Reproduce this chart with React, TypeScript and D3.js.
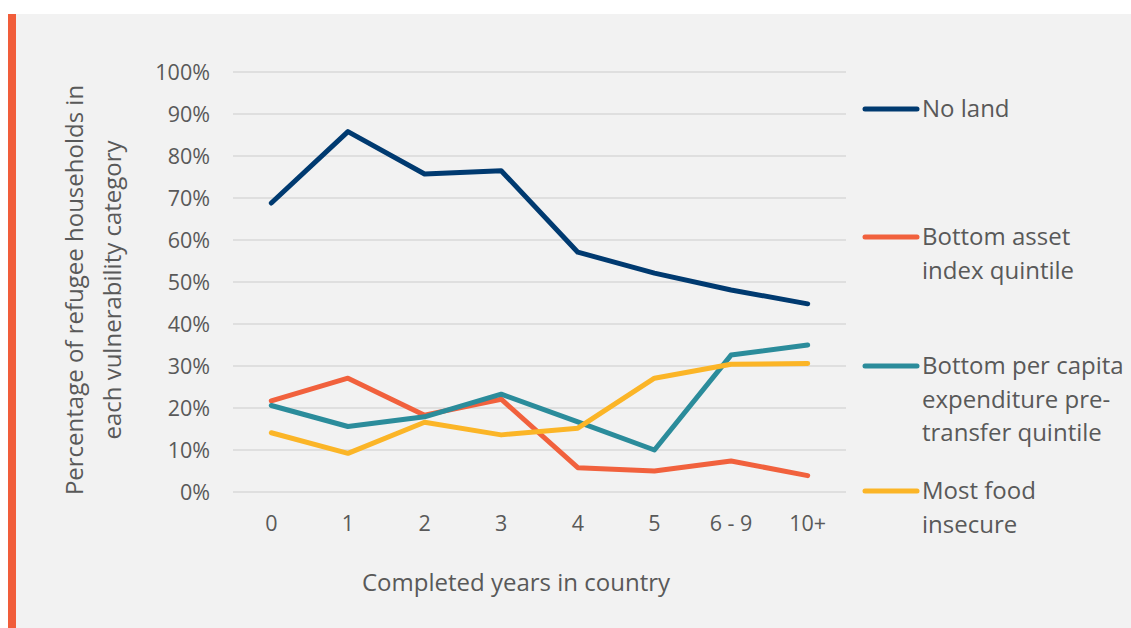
import React from "react";
import * as d3 from "d3";

const categories = ["0", "1", "2", "3", "4", "5", "6 - 9", "10+"];

const noLand = [68.8, 85.8, 75.7, 76.5, 57.1, 52.1, 48.1, 44.8];
const bottomAsset = [21.7, 27.1, 18.3, 22.1, 5.8, 5.0, 7.4, 3.9];
const bottomExpenditure = [20.6, 15.6, 17.9, 23.3, 16.7, 10.0, 32.6, 35.0];
const foodInsecure = [14.1, 9.2, 16.6, 13.6, 15.2, 27.1, 30.4, 30.6];

const yTicks = [0, 10, 20, 30, 40, 50, 60, 70, 80, 90, 100];

const series = [
  { name: ["No land"], values: noLand, color: "#003a70", legendY: 109 },
  { name: ["Bottom asset", "index quintile"], values: bottomAsset, color: "#f1613d", legendY: 237 },
  {
    name: ["Bottom per capita", "expenditure pre-", "transfer quintile"],
    values: bottomExpenditure,
    color: "#2b8c9b",
    legendY: 366,
  },
  { name: ["Most food", "insecure"], values: foodInsecure, color: "#fbb527", legendY: 491 },
];

const W = 1131;
const H = 628;
const FONT = "'Open Sans', sans-serif";
const TEXT = "#595959";

export default function App() {
  const x = d3.scaleBand<string>().domain(categories).range([233, 846]);
  const y = d3.scaleLinear().domain([0, 100]).range([492, 72]);

  const line = d3
    .line<number>()
    .x((_, i) => (x(categories[i]) ?? 0) + x.bandwidth() / 2)
    .y((d) => y(d));

  return (
    <svg
      width={W}
      height={H}
      style={{ position: "absolute", left: 0, top: 0, fontFamily: FONT }}
    >
      <rect x={0} y={0} width={W} height={H} fill="#ffffff" />
      <rect x={8} y={14} width={W - 8} height={H - 14} fill="#f2f2f2" />
      <rect x={8} y={14} width={8} height={H - 14} fill="#f15d3a" />

      {/* gridlines + y labels */}
      {yTicks.map((t) => (
        <g key={t}>
          <line x1={233} x2={846} y1={y(t)} y2={y(t)} stroke="#d9d9d9" strokeWidth={1.5} />
          <text x={210} y={y(t)} dy="0.35em" textAnchor="end" fontSize={21.5} fill={TEXT}>
            {t}%
          </text>
        </g>
      ))}

      {/* x labels */}
      {categories.map((c) => (
        <text
          key={c}
          x={(x(c) ?? 0) + x.bandwidth() / 2}
          y={523}
          dy="0.35em"
          textAnchor="middle"
          fontSize={21.5}
          fill={TEXT}
        >
          {c}
        </text>
      ))}

      <text x={516} y={583} dy="0.35em" textAnchor="middle" fontSize={24} fill={TEXT}>
        Completed years in country
      </text>

      <g transform="translate(94, 290) rotate(-90)">
        <text x={0} y={-19} dy="0.35em" textAnchor="middle" fontSize={24} fill={TEXT}>
          Percentage of refugee households in
        </text>
        <text x={0} y={19} dy="0.35em" textAnchor="middle" fontSize={24} fill={TEXT}>
          each vulnerability category
        </text>
      </g>

      {/* series */}
      {series.map((s) => (
        <path
          key={s.name.join(" ")}
          d={line(s.values) ?? ""}
          fill="none"
          stroke={s.color}
          strokeWidth={5}
          strokeLinecap="round"
          strokeLinejoin="round"
        />
      ))}

      {/* legend */}
      {series.map((s) => (
        <g key={s.name.join("-")}>
          <line
            x1={865}
            x2={917}
            y1={s.legendY}
            y2={s.legendY}
            stroke={s.color}
            strokeWidth={5}
            strokeLinecap="round"
          />
          {s.name.map((ln, i) => (
            <text
              key={ln}
              x={922}
              y={s.legendY + i * 33.5}
              dy="0.35em"
              fontSize={24}
              fill={TEXT}
            >
              {ln}
            </text>
          ))}
        </g>
      ))}
    </svg>
  );
}
